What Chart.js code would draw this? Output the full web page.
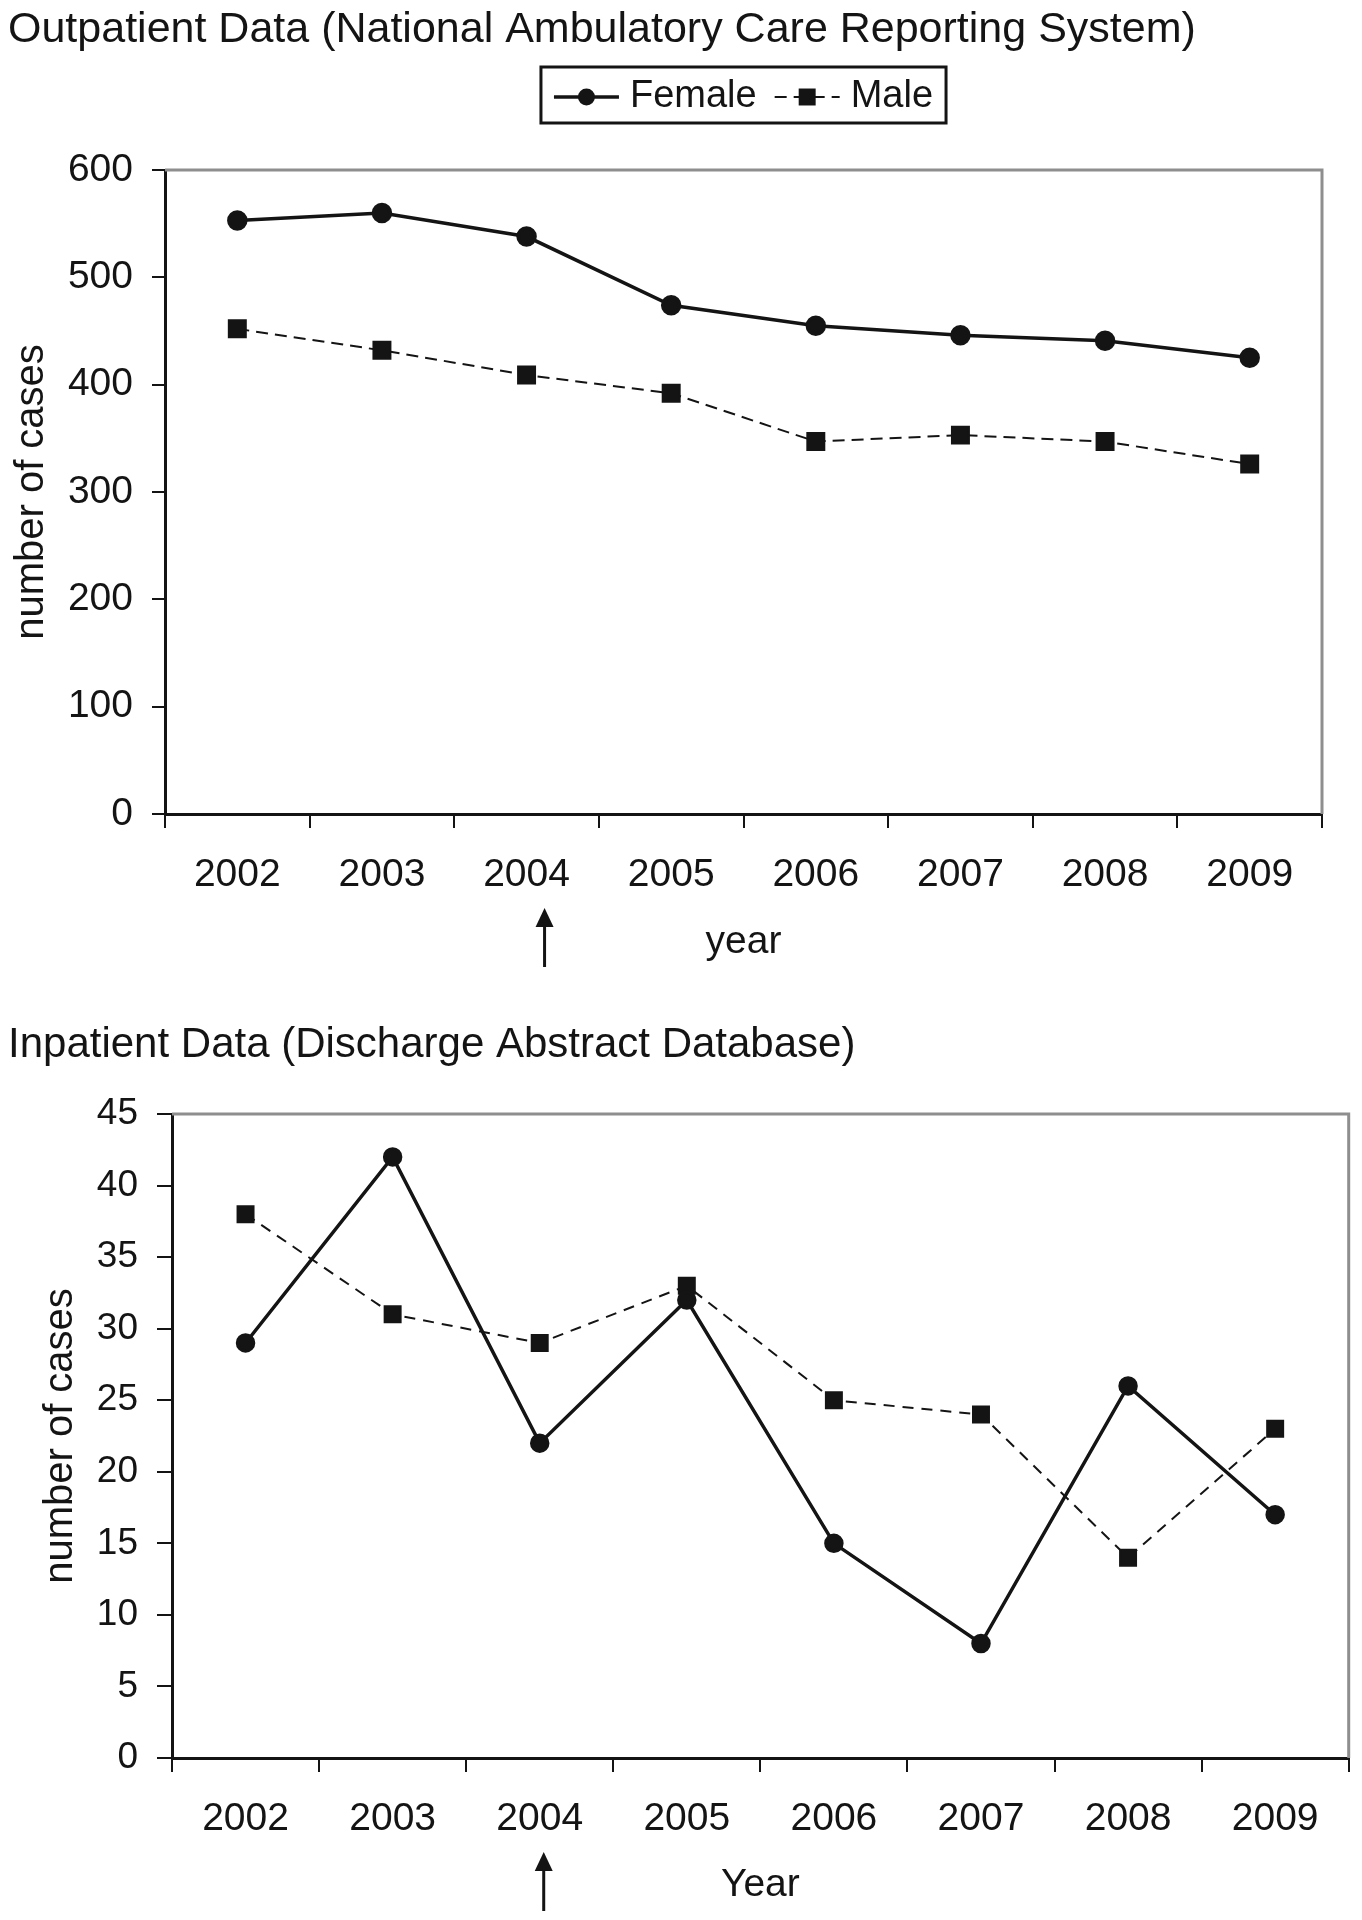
<!DOCTYPE html>
<html lang="en">
<head>
<meta charset="UTF-8">
<title>Outpatient / Inpatient Data</title>
<script src="https://cdn.jsdelivr.net/npm/chart.js@4.4.1/dist/chart.umd.min.js"></script>
<style>
    body {
        margin: 0;
        background: #fff;
    }
    .wrap {
        position: relative;
        width: 1362px;
        height: 1920px;
    }
    #outChart { position: absolute; left: 0; top: 0; }
    #inChart { position: absolute; left: 0; top: 1000px; }
</style>
</head>
<body>
<div class="wrap">
    <canvas id="outChart" width="1362" height="1000"></canvas>
    <canvas id="inChart" width="1362" height="920"></canvas>
</div>

<script>
    // data
    const years = ['2002', '2003', '2004', '2005', '2006', '2007', '2008', '2009'];
    const outFemale = [553, 560, 538, 474, 455, 446, 441, 425];
    const outMale = [452, 432, 409, 392, 347, 353, 347, 326];
    const inFemale = [29, 42, 22, 32, 15, 8, 26, 17];
    const inMale = [38, 31, 29, 33, 25, 24, 14, 23];
    const outTicks = [0, 100, 200, 300, 400, 500, 600];
    const inTicks = [0, 5, 10, 15, 20, 25, 30, 35, 40, 45];

    const FONT = "'Liberation Sans', Arial, Helvetica, sans-serif";
    const INK = '#141414';

    // gray top + right edge of the plot box
    const plotFrame = {
        id: 'plotFrame',
        afterDraw(chart) {
            const {ctx, chartArea: a} = chart;
            ctx.save();
            ctx.strokeStyle = '#8e8e8e';
            ctx.lineWidth = 3;
            ctx.beginPath();
            ctx.moveTo(a.left, a.top);
            ctx.lineTo(a.right, a.top);
            ctx.lineTo(a.right, a.bottom);
            ctx.stroke();
            ctx.restore();
        }
    };

    // small arrow under the 2004 label
    const yearArrow = {
        id: 'yearArrow',
        afterDraw(chart, args, opts) {
            const ctx = chart.ctx;
            const x = chart.scales.x.getPixelForValue(opts.index) + opts.shift;
            const top = chart.chartArea.bottom + 94;
            const bottom = chart.chartArea.bottom + 153;
            ctx.save();
            ctx.strokeStyle = INK;
            ctx.fillStyle = INK;
            ctx.lineWidth = 3;
            ctx.beginPath();
            ctx.moveTo(x, top + 15);
            ctx.lineTo(x, bottom);
            ctx.stroke();
            ctx.beginPath();
            ctx.moveTo(x, top);
            ctx.lineTo(x - 9, top + 19);
            ctx.lineTo(x + 9, top + 19);
            ctx.closePath();
            ctx.fill();
            ctx.restore();
        }
    };

    // boxed legend with line samples, centred over the plot
    const boxLegend = {
        id: 'boxLegend',
        afterDraw(chart, args, opts) {
            if (!opts.display) return;
            const {ctx, chartArea: a} = chart;
            const sample = 65;
            ctx.save();
            ctx.font = opts.size + 'px ' + FONT;
            const items = chart.data.datasets.map(ds => ({ds, w: ctx.measureText(ds.label).width}));
            let width = 13 + 13;
            items.forEach((it, i) => { width += sample + 11 + it.w + (i ? 18 : 0); });
            const left = (a.left + a.right) / 2 - width / 2;
            const cy = opts.top + opts.height / 2 + 2;

            ctx.strokeStyle = INK;
            ctx.lineWidth = 3;
            ctx.strokeRect(left, opts.top, width, opts.height);

            let x = left + 13;
            items.forEach((it, i) => {
                const ds = it.ds;
                if (i) x += 18;
                ctx.strokeStyle = INK;
                ctx.lineWidth = ds.borderWidth;
                ctx.setLineDash(ds.borderDash || []);
                ctx.beginPath();
                ctx.moveTo(x, cy);
                ctx.lineTo(x + sample, cy);
                ctx.stroke();
                ctx.setLineDash([]);
                ctx.fillStyle = INK;
                const mx = x + sample / 2;
                if (ds.pointStyle === 'rect') {
                    const s = ds.pointRadius * Math.SQRT1_2;
                    ctx.fillRect(mx - s, cy - s, 2 * s, 2 * s);
                } else {
                    ctx.beginPath();
                    ctx.arc(mx, cy, ds.pointRadius, 0, Math.PI * 2);
                    ctx.fill();
                }
                ctx.textBaseline = 'middle';
                ctx.textAlign = 'left';
                ctx.fillText(ds.label, x + sample + 11, cy);
                x += sample + 11 + it.w;
            });
            ctx.restore();
        }
    };

    function makeChart(id, cfg) {
        const font = {family: FONT, size: 39};
        return new Chart(document.getElementById(id), {
            type: 'line',
            data: {
                labels: years,
                datasets: [{
                    label: 'Female',
                    data: cfg.female,
                    borderColor: INK,
                    backgroundColor: INK,
                    borderWidth: 3.5,
                    pointStyle: 'circle',
                    pointRadius: cfg.circleR,
                    pointBackgroundColor: INK,
                    pointBorderColor: INK,
                    tension: 0
                }, {
                    label: 'Male',
                    data: cfg.male,
                    borderColor: INK,
                    backgroundColor: INK,
                    borderWidth: 2,
                    borderDash: cfg.dash,
                    pointStyle: 'rect',
                    pointRadius: cfg.rectR,
                    pointBackgroundColor: INK,
                    pointBorderColor: INK,
                    tension: 0
                }]
            },
            options: {
                responsive: false,
                animation: false,
                layout: {padding: cfg.pad},
                plugins: {
                    title: {
                        display: true,
                        text: cfg.title,
                        align: 'start',
                        color: INK,
                        font: {family: FONT, size: cfg.titleSize, weight: 'normal'},
                        padding: cfg.titlePad
                    },
                    legend: {display: false},
                    tooltip: {enabled: false},
                    boxLegend: cfg.legend,
                    yearArrow: {index: 2, shift: cfg.arrowShift}
                },
                scales: {
                    x: {
                        offset: true,
                        afterFit: s => { s.height = cfg.xHeight; },
                        border: {color: INK, width: 3},
                        grid: {offset: true, drawOnChartArea: false, tickLength: 14, color: INK, lineWidth: 2},
                        ticks: {color: INK, padding: 24, maxRotation: 0, autoSkip: false, font},
                        title: {display: true, text: cfg.xTitle, color: INK, font, padding: {top: 0, bottom: cfg.xTitlePad}}
                    },
                    y: {
                        min: cfg.ticks[0],
                        max: cfg.ticks[cfg.ticks.length - 1],
                        afterBuildTicks: s => { s.ticks = cfg.ticks.map(v => ({value: v})); },
                        afterFit: s => { s.width = cfg.yWidth; },
                        border: {color: INK, width: 3},
                        grid: {drawOnChartArea: false, tickLength: cfg.yTick, color: INK, lineWidth: 2},
                        ticks: {color: INK, padding: 19, font: {family: FONT, size: cfg.yTickSize}},
                        title: {display: true, text: 'number of cases', color: INK, font: {family: FONT, size: 40}, padding: {top: cfg.yTitlePad, bottom: 0}}
                    }
                }
            },
            plugins: [plotFrame, yearArrow, boxLegend]
        });
    }

    makeChart('outChart', {
        title: 'Outpatient Data (National Ambulatory Care Reporting System)',
        titleSize: 43,
        titlePad: {top: 4, bottom: 114.4},
        female: outFemale,
        male: outMale,
        ticks: outTicks,
        circleR: 8.5,
        rectR: 12,
        dash: [12, 7],
        pad: {top: 0, left: 8, right: 40, bottom: 26},
        yWidth: 157,
        yTick: 13,
        yTickSize: 39,
        yTitlePad: 0,
        xTitle: 'year',
        xHeight: 160,
        xTitlePad: 8,
        arrowShift: 18,
        legend: {display: true, top: 67, height: 56, size: 38}
    });

    makeChart('inChart', {
        title: 'Inpatient Data (Discharge Abstract Database)',
        titleSize: 42,
        titlePad: {top: 19.8, bottom: 43.8},
        female: inFemale,
        male: inMale,
        ticks: inTicks,
        circleR: 8,
        rectR: 11.3,
        dash: [11, 8],
        pad: {top: 0, left: 8, right: 12, bottom: 7},
        yWidth: 164,
        yTick: 15,
        yTickSize: 37,
        yTitlePad: 29,
        xTitle: 'Year',
        xHeight: 155,
        xTitlePad: 4,
        arrowShift: 4,
        legend: {display: false}
    });
</script>
</body>
</html>
